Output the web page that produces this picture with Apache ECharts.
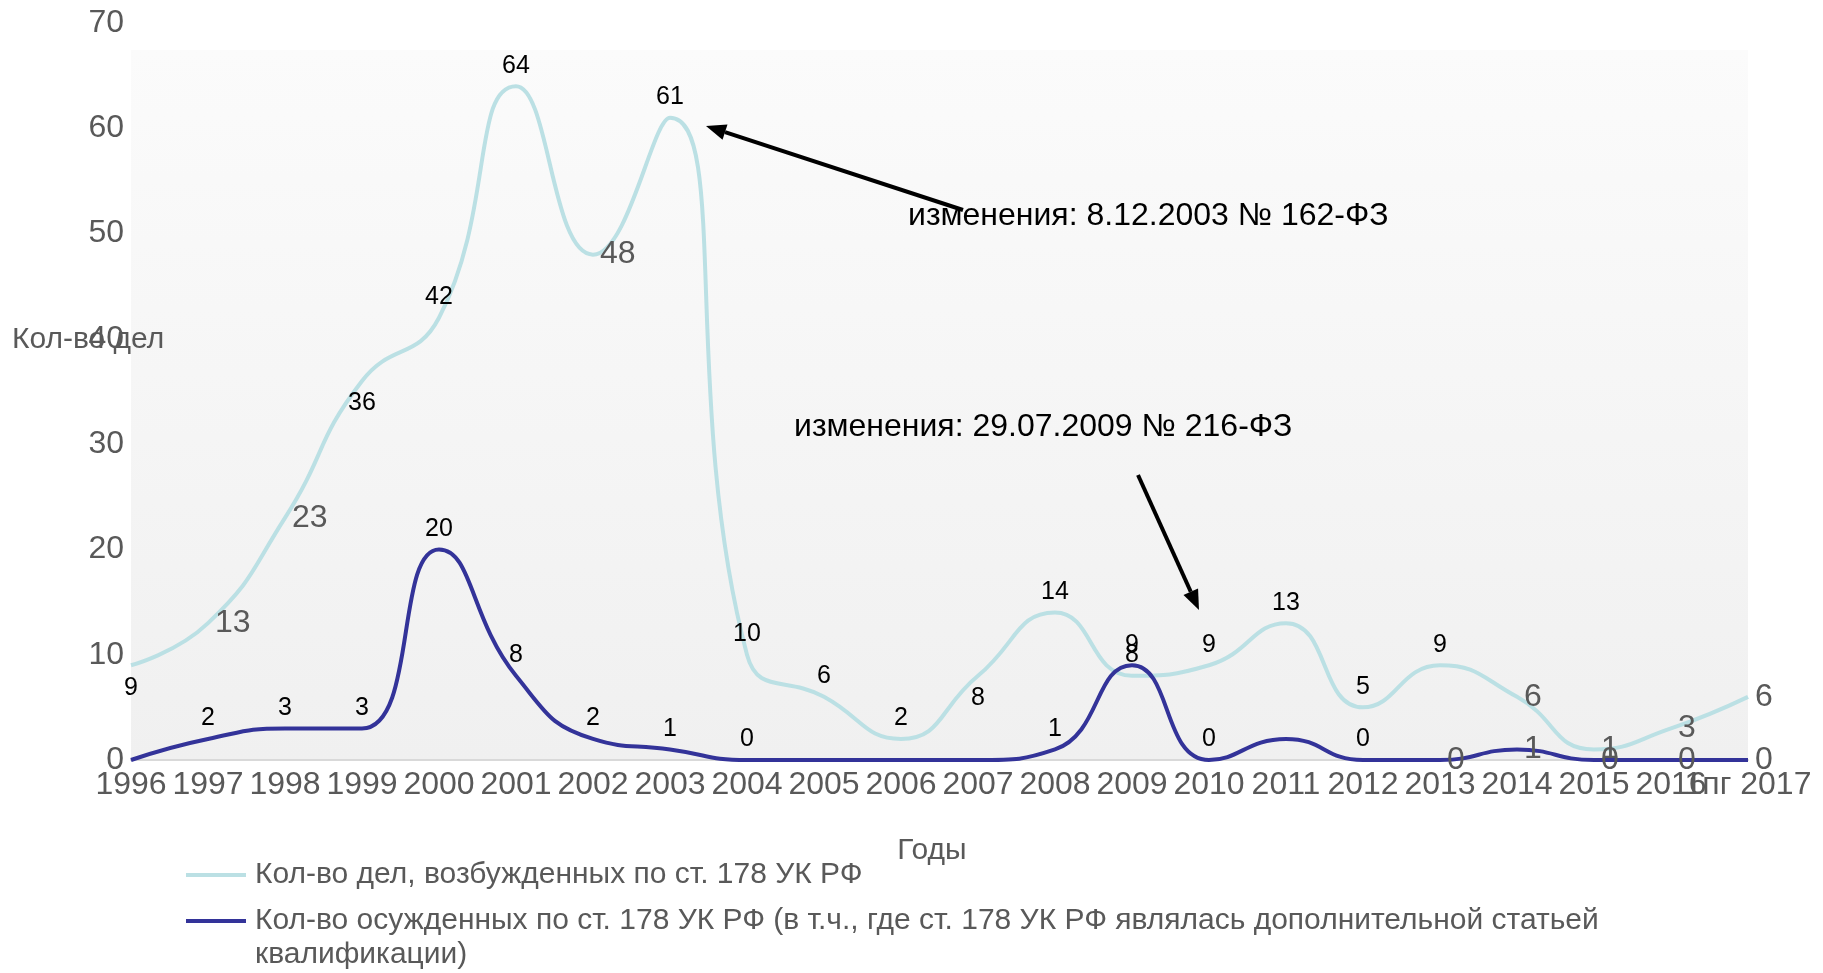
<!DOCTYPE html>
<html>
<head>
<meta charset="utf-8">
<title>Ст. 178 УК РФ</title>
<script src="https://cdn.jsdelivr.net/npm/echarts@6/dist/echarts.min.js"></script>
<style>
  html, body { margin: 0; padding: 0; background: #fff; }
  #chart { width: 1823px; height: 973px; }
</style>
</head>
<body>
<div id="chart"></div>
<script>
// --- data ---
const years = ['1996', '1997', '1998', '1999', '2000', '2001', '2002', '2003', '2004', '2005', '2006',
  '2007', '2008', '2009', '2010', '2011', '2012', '2013', '2014', '2015', '2016', '1пг 2017']
const casesOpened = [9, 13, 23, 36, 42, 64, 48, 61, 10, 6, 2, 8, 14, 8, 9, 13, 5, 9, 6, 1, 3, 6]
const convicted = [0, 2, 3, 3, 20, 8, 2, 1, 0, 0, 0, 0, 1, 9, 0, 2, 0, 0, 1, 0, 0, 0]
const yMax = 70
const yStep = 10

const casesName = 'Кол-во дел, возбужденных по ст. 178 УК РФ'
const convictedName = 'Кол-во осужденных по ст. 178 УК РФ (в т.ч., где ст. 178 УК РФ являлась дополнительной статьей квалификации)'

// where each value label sits (above / below / side / none)
const casesLabelPlace = ['below', 'side', 'side', 'below', 'above', 'above', 'side', 'above', 'above', 'above', 'above',
  'below', 'above', 'above', 'above', 'above', 'above', 'above', 'side', 'side', 'side', 'side']
const convictedLabelPlace = ['none', 'above', 'above', 'above', 'above', 'above', 'above', 'above', 'above', 'none', 'none',
  'none', 'above', 'above', 'above', 'none', 'above', 'side', 'side', 'side', 'side', 'side']

// --- styles ---
const FONT = '"Liberation Sans", Arial, sans-serif'
const GREY = '#595959'
const LIGHT = '#bbe0e4'
const DARK = '#333399'

const LABEL_STYLES = {
  above: { show: true, position: 'top', distance: 8, color: '#000', fontSize: 25, fontFamily: FONT },
  below: { show: true, position: 'bottom', distance: 10, color: '#000', fontSize: 25, fontFamily: FONT },
  side: { show: true, position: 'right', distance: 7, color: GREY, fontSize: 32, fontFamily: FONT },
  none: { show: false }
}

const withLabels = (values, places) => values.map((v, i) => ({ value: v, label: LABEL_STYLES[places[i]] }))

// legend text: the long name goes on two lines, the icon stays with the first one
// (a blank leading line keeps the first text line centred on the icon)
const legendText = name => {
  if (name !== convictedName) return name
  const cut = name.lastIndexOf(' ')
  return '\n' + name.slice(0, cut) + '\n' + name.slice(cut + 1)
}

const arrow = (from, to) => {
  const dx = from[0] - to[0]
  const dy = from[1] - to[1]
  const len = Math.hypot(dx, dy)
  const ux = dx / len
  const uy = dy / len
  const head = 20
  const half = 8
  const bx = to[0] + ux * head
  const by = to[1] + uy * head
  return [
    { type: 'polyline', z: 10, shape: { points: [from, [bx, by]] }, style: { stroke: '#000', lineWidth: 4 } },
    {
      type: 'polygon', z: 10,
      shape: { points: [to, [bx - uy * half, by + ux * half], [bx + uy * half, by - ux * half]] },
      style: { fill: '#000' }
    }
  ]
}

const chart = echarts.init(document.getElementById('chart'))

chart.setOption({
  animation: false,
  backgroundColor: '#fff',
  textStyle: { fontFamily: FONT },
  grid: {
    left: 131, right: 75, top: 23, bottom: 213,
    show: true,
    borderWidth: 0,
    backgroundColor: new echarts.graphic.LinearGradient(0, 0, 0, 1, [
      { offset: 0, color: '#ffffff' },
      { offset: 0.036, color: '#ffffff' },
      { offset: 0.037, color: '#fbfbfb' },
      { offset: 1, color: '#f0f0f0' }
    ])
  },
  legend: [
    {
      data: [casesName],
      orient: 'vertical',
      left: 181, top: 852,
      icon: 'rect', itemWidth: 60, itemHeight: 4,
      textStyle: { fontSize: 30, color: GREY, lineHeight: 36, padding: [0, 0, 0, 4], fontFamily: FONT }
    },
    {
      data: [convictedName],
      orient: 'vertical',
      left: 181, top: 865,
      icon: 'rect', itemWidth: 60, itemHeight: 4,
      formatter: legendText,
      textStyle: { fontSize: 30, color: GREY, lineHeight: 34, padding: [0, 0, 0, 4], fontFamily: FONT }
    }
  ],
  xAxis: {
    type: 'category',
    data: years,
    boundaryGap: false,
    name: 'Годы',
    nameLocation: 'middle',
    nameGap: 76,
    nameTextStyle: { fontSize: 30, color: GREY, fontFamily: FONT, padding: [0, 15, 0, 0] },
    axisLine: { lineStyle: { color: '#d9d9d9', width: 2 } },
    axisTick: { show: false },
    axisLabel: { interval: 0, fontSize: 32, color: GREY, margin: 9, fontFamily: FONT },
    splitLine: { show: false }
  },
  yAxis: {
    type: 'value',
    min: 0,
    max: yMax,
    interval: yStep,
    axisLine: { show: false },
    axisTick: { show: false },
    axisLabel: { fontSize: 32, color: GREY, margin: 7, fontFamily: FONT },
    splitLine: { show: false }
  },
  series: [
    {
      name: casesName,
      type: 'line',
      color: LIGHT,
      smooth: 0.5,
      symbol: 'circle',
      symbolSize: 0,
      lineStyle: { color: LIGHT, width: 4 },
      data: withLabels(casesOpened, casesLabelPlace),
      z: 2
    },
    {
      name: convictedName,
      type: 'line',
      color: DARK,
      smooth: 0.5,
      symbol: 'circle',
      symbolSize: 0,
      lineStyle: { color: DARK, width: 4 },
      data: withLabels(convicted, convictedLabelPlace),
      z: 3
    }
  ],
  graphic: [
    {
      type: 'text', x: 12, y: 340,
      style: { text: 'Кол-во дел', font: '30px ' + FONT, fill: GREY, verticalAlign: 'middle' }
    },
    {
      type: 'text', x: 908, y: 216, z: 9,
      style: { text: 'изменения: 8.12.2003 № 162-ФЗ', font: '32px ' + FONT, fill: '#000', verticalAlign: 'middle' }
    },
    {
      type: 'text', x: 794, y: 427, z: 9,
      style: { text: 'изменения: 29.07.2009 № 216-ФЗ', font: '32px ' + FONT, fill: '#000', verticalAlign: 'middle' }
    },
    ...arrow([963, 210], [706, 126]),
    ...arrow([1138, 475], [1199, 610])
  ]
})
</script>
</body>
</html>
